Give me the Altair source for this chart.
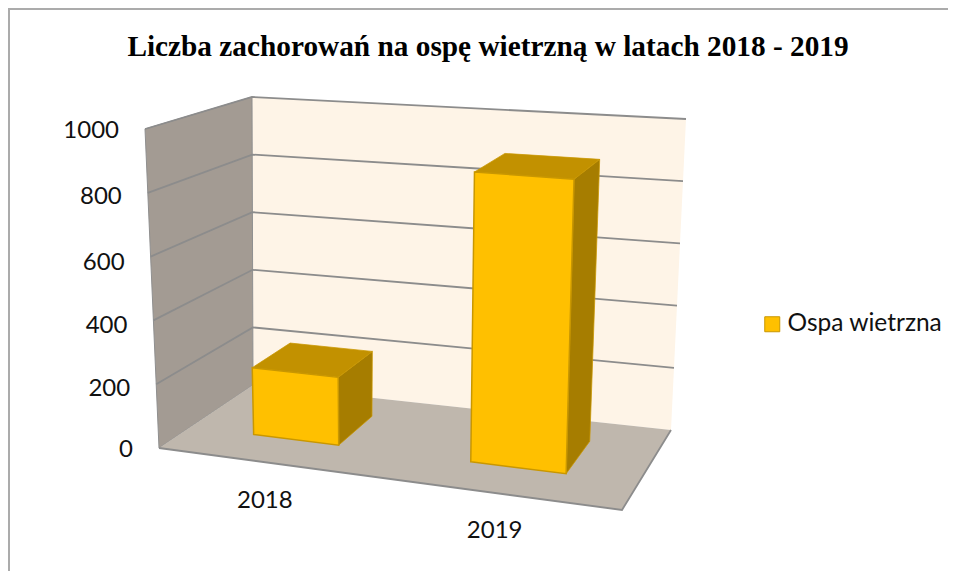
import altair as alt

TITLE = "Liczba zachorowań na ospę wietrzną w latach 2018 - 2019"
SERIES = "Ospa wietrzna"
categories = ["2018", "2019"]
values = [214, 894]
ticks = [0, 200, 400, 600, 800, 1000]
tick_nudge = [2, 5, 6, 6, 4, 2]

W, H = 940, 563
OX, OY = 8, 8  # page offset of the view
# projected corners of the 3-D box in page pixels: (u, value, depth)
FBL, FBR, BBL, BBR = (159, 448), (622, 510), (253, 385), (671, 430)
FTL, FTR, BTL, BTR = (145, 129), (633, 165), (252, 97), (686, 119)
VMAX = 1000
BAR_U = [(0.14, 0.33), (0.625, 0.838)]
BAR_Z = (0.34, 0.76)


def P(u, v, z):
    t = v / VMAX
    out = []
    for i in range(2):
        bot = (FBL[i]*(1-u)*(1-z) + FBR[i]*u*(1-z) + BBL[i]*(1-u)*z + BBR[i]*u*z)
        top = (FTL[i]*(1-u)*(1-z) + FTR[i]*u*(1-z) + BTL[i]*(1-u)*z + BTR[i]*u*z)
        out.append(bot + (top-bot)*t)
    return [out[0]-OX, out[1]-OY]


def poly(points, **props):
    ring = points + [points[0]]
    return {"type": "Feature", "geometry": {"type": "Polygon", "coordinates": [ring]}, "properties": props}


def line(points, **props):
    return {"type": "Feature", "geometry": {"type": "LineString", "coordinates": points}, "properties": props}


proj = alt.Projection(type="identity", scale=1, translate=[0, 0])


def shapes(features, **mark):
    return alt.Chart(alt.Data(values=features)).mark_geoshape(**mark).project(**proj.to_dict())


walls = alt.layer(
    shapes([line([[1, H], [1, 1], [W, 1]])], filled=False, stroke="#ababab", strokeWidth=2),
    shapes([poly([P(0, 0, 1), P(1, 0, 1), P(1, VMAX, 1), P(0, VMAX, 1)])], fill="#fef4e7", stroke=None),
    shapes([poly([P(0, 0, 0), P(0, 0, 1), P(0, VMAX, 1), P(0, VMAX, 0)])], fill="#a39b93", stroke="#8f8f8f", strokeWidth=1),
    shapes([poly([P(0, 0, 0), P(1, 0, 0), P(1, 0, 1), P(0, 0, 1)])], fill="#bfb7ad", stroke=None),
    shapes(
        [line([P(0, t, 0), P(0, t, 1), P(1, t, 1)]) for t in ticks[1:]],
        filled=False, stroke="#8c8c8c", strokeWidth=1.8,
    ),
    shapes([line([P(0, 0, 0), P(1, 0, 0), P(1, 0, 1)])], filled=False, stroke="#8c8c8c", strokeWidth=1.8),
)

side, topf, front = [], [], []
for cat, val, (u0, u1) in zip(categories, values, BAR_U):
    z0, z1 = BAR_Z
    side.append(poly([P(u1, 0, z0), P(u1, 0, z1), P(u1, val, z1), P(u1, val, z0)]))
    topf.append(poly([P(u0, val, z0), P(u1, val, z0), P(u1, val, z1), P(u0, val, z1)]))
    front.append(poly([P(u0, 0, z0), P(u1, 0, z0), P(u1, val, z0), P(u0, val, z0)], series=SERIES))

bars = alt.layer(
    shapes(side, fill="#a67d00", stroke="#c99700", strokeWidth=0.75),
    shapes(topf, fill="#c29100", stroke="#c99700", strokeWidth=0.75),
    shapes(front, stroke="#c99700", strokeWidth=1.5).encode(
        color=alt.Color(
            "properties.series:N",
            scale=alt.Scale(domain=[SERIES], range=["#ffc000"]),
            legend=alt.Legend(
                title=None, orient="none", legendX=760 - OX, legendY=312 - OY,
                symbolType="square", symbolSize=225, symbolStrokeColor="#c99700", symbolStrokeWidth=1,
                labelFont="Lato", labelFontSize=24.5, labelColor="#111111", labelLimit=300, labelOffset=3,
            ),
        )
    ),
)

tick_rows = [
    {"label": str(t), "lon": P(0, t, 0)[0] - 26, "lat": P(0, t, 0)[1] + n}
    for t, n in zip(ticks, tick_nudge)
]
cat_rows = [
    {"label": c, "lon": P((a + b) / 2, 0, 0)[0] - 3, "lat": P((a + b) / 2, 0, 0)[1] + 38}
    for c, (a, b) in zip(categories, BAR_U)
]
lonlat = dict(longitude="lon:Q", latitude="lat:Q", text="label:N")
text_style = dict(font="Lato", fontSize=24, color="#111111")
tick_text = (
    alt.Chart(alt.Data(values=tick_rows))
    .mark_text(align="right", baseline="middle", **text_style)
    .encode(**lonlat)
    .project(**proj.to_dict())
)
cat_text = (
    alt.Chart(alt.Data(values=cat_rows))
    .mark_text(align="center", baseline="middle", **text_style)
    .encode(**lonlat)
    .project(**proj.to_dict())
)
title_text = (
    alt.Chart(alt.Data(values=[{"label": TITLE, "lon": 488 - OX, "lat": 47 - OY}]))
    .mark_text(align="center", baseline="middle", font="Liberation Serif", fontSize=29.3, fontWeight="bold", color="#000000")
    .encode(**lonlat)
    .project(**proj.to_dict())
)

chart = (
    alt.layer(walls, bars, tick_text, cat_text, title_text)
    .properties(width=W, height=H, padding=0, autosize=alt.AutoSizeParams(type="none"))
    .configure_view(stroke=None)
)
chart.save("out.html", embed_options={"renderer": "svg", "actions": False})
